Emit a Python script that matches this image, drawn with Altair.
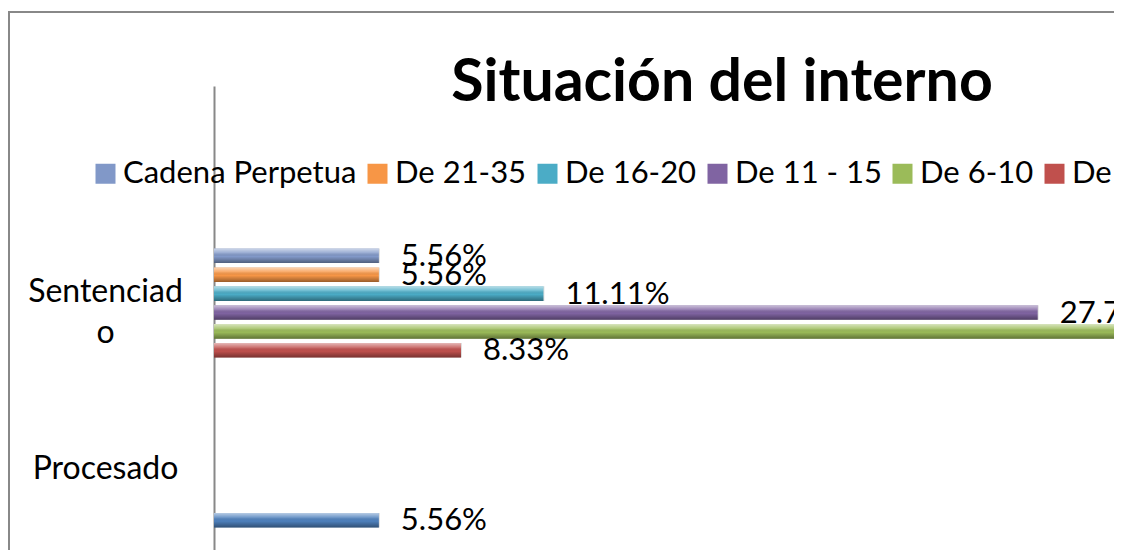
import altair as alt
import pandas as pd

# ---- data ----
title_text = "Situación del interno"
categories = ["", "Sentenciado", "Procesado", " "]
series = ["Cadena Perpetua", "De 21-35", "De 16-20", "De 11 - 15", "De 6-10", "De 1-5", "Sin sentencia"]
colors = ["#8198C8", "#F79646", "#4BACC6", "#8064A2", "#9BBB59", "#C0504D", "#4F81BD"]

bar_category = ["Sentenciado", "Sentenciado", "Sentenciado", "Sentenciado", "Sentenciado", "Sentenciado", "Procesado"]
bar_series = ["Cadena Perpetua", "De 21-35", "De 16-20", "De 11 - 15", "De 6-10", "De 1-5", "Sin sentencia"]
bar_value = [0.0556, 0.0556, 0.1111, 0.2778, 0.3611, 0.0833, 0.0556]

df = pd.DataFrame({"category": bar_category, "series": bar_series, "value": bar_value})

FONT = "Lato"
PLOT_W = 900
PLOT_H = 464

base = alt.Chart(df).encode(
    x=alt.X("value:Q", scale=alt.Scale(domain=[0, PLOT_W / 2965], nice=False, zero=True), axis=None),
    y=alt.Y(
        "category:N",
        sort=categories,
        scale=alt.Scale(domain=categories, range=[0, 604], paddingInner=0, paddingOuter=0),
        axis=alt.Axis(
            title=None, ticks=False, grid=False, domain=True,
            domainColor="#888888", domainWidth=2,
            labelFont=FONT, labelFontSize=32, labelColor="black",
            labelAlign="center", labelPadding=109, labelLineHeight=41,
            labelLimit=400,
            labelOffset={"condition": {"test": "datum.value == 'Sentenciado'", "value": -21}, "value": 5},
            labelExpr="datum.value == 'Sentenciado' ? ['Sentenciad', 'o'] : datum.label",
        ),
    ),
    yOffset=alt.YOffset(
        "series:N", sort=series,
        scale=alt.Scale(domain=series, paddingInner=0.23, paddingOuter=0.61),
    ),
)

shadow = base.mark_bar(color="black", opacity=0.13, yOffset=5, xOffset=1, clip=True)

bars = base.mark_bar(clip=True).encode(
    color=alt.Color(
        "series:N",
        scale=alt.Scale(domain=series, range=colors),
        legend=alt.Legend(
            title=None, orient="none", legendX=-124, legendY=72,
            direction="horizontal", symbolType="square", symbolSize=400,
            symbolStrokeWidth=0, symbolOpacity=1,
            labelFont=FONT, labelFontSize=31, labelColor="black",
            labelOffset=2, columnPadding=5, labelLimit=400,
        ),
    )
)

gloss = base.mark_bar(
    clip=True,
    color=alt.Gradient(
        gradient="linear", x1=0, x2=0, y1=0, y2=1,
        stops=[
            alt.GradientStop(offset=0, color="rgba(255,255,255,0.6)"),
            alt.GradientStop(offset=0.3, color="rgba(255,255,255,0.2)"),
            alt.GradientStop(offset=0.55, color="rgba(0,0,0,0)"),
            alt.GradientStop(offset=1, color="rgba(0,0,0,0.38)"),
        ],
    ),
)

labels = base.mark_text(align="left", baseline="middle", dx=22, dy=1, clip=True,
                        font=FONT, fontSize=31, color="black").encode(
    text=alt.Text("value:Q", format=".2%")
)

frame_data = alt.Data(values=[{"k": 1}])
border_left = alt.Chart(frame_data).mark_rule(color="#888888", strokeWidth=2).encode(
    x=alt.value(-205), y=alt.value(-74), y2=alt.value(700)
)
border_top = alt.Chart(frame_data).mark_rule(color="#888888", strokeWidth=2).encode(
    x=alt.value(-206), x2=alt.value(1200), y=alt.value(-74)
)

title = alt.Chart(alt.Data(values=[{"t": title_text}])).mark_text(
    font=FONT, fontSize=59, fontWeight="bold", color="black",
    align="center", baseline="alphabetic",
).encode(text="t:N", x=alt.value(508), y=alt.value(15))

chart = alt.layer(border_left, border_top, shadow, bars, gloss, labels, title).properties(
    width=PLOT_W,
    height=PLOT_H,
    autosize=alt.AutoSizeParams(type="none"),
    padding={"left": 206, "top": 78, "right": 0, "bottom": 0},
).configure_view(stroke=None)

chart.save("out.html", embed_options={"renderer": "svg", "actions": False})
